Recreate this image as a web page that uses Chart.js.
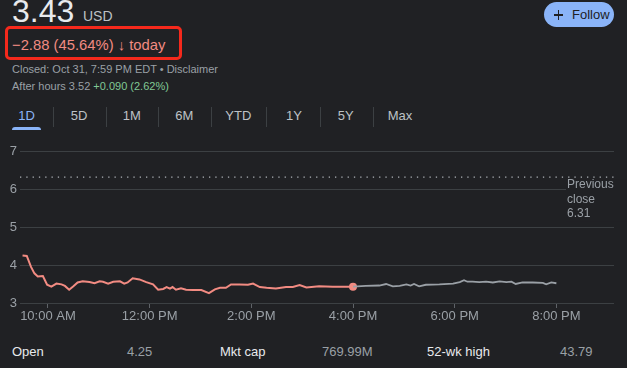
<!DOCTYPE html>
<html>
<head>
<meta charset="utf-8">
<script src="https://cdn.jsdelivr.net/npm/chart.js@4"></script>
<style>
  html, body { margin:0; padding:0; background:#202124; width:627px; height:368px; overflow:hidden; }
  body { position:relative; font-family:"Liberation Sans", Arial, Helvetica, sans-serif; }
  .t { position:absolute; white-space:nowrap; }
  #chart { position:absolute; left:0; top:140px; }
  .tab { position:absolute; top:108px; width:50px; text-align:center; font-size:13px; line-height:16px; color:#bdc1c6; }
  .sep { position:absolute; top:107px; width:1px; height:20px; background:#3c4043; }
  .row { position:absolute; top:344px; font-size:13px; line-height:16px; }
</style>
</head>
<body>
<div class="t" style="left:12px; top:-5px; font-size:32px; line-height:32px; color:#e8eaed;">3.43</div>
<div class="t" style="left:83px; top:9px; font-size:14px; line-height:14px; color:#bdc1c6;">USD</div>
<div style="position:absolute; left:5px; top:26px; width:171px; height:28px; border:3px solid #f5291c; border-radius:5px;"></div>
<div class="t" style="left:12px; top:37px; font-size:14.8px; line-height:16px; color:#f28b82;">−2.88 (45.64%) <b>↓</b> today</div>
<div class="t" style="left:12px; top:61.5px; font-size:11px; line-height:14px; color:#9aa0a6;">Closed: Oct 31, 7:59 PM EDT • Disclaimer</div>
<div class="t" style="left:12px; top:78.5px; font-size:11px; line-height:14px; color:#9aa0a6;">After hours 3.52 <span style="color:#81c995;">+0.090 (2.62%)</span></div>

<div class="tab" style="left:1.5px; color:#8ab4f8;">1D</div>
<div style="position:absolute; left:12px; top:127px; width:29px; height:3px; background:#8ab4f8; border-radius:3px 3px 0 0;"></div>
<div class="sep" style="left:52.5px;"></div>
<div class="tab" style="left:54px;">5D</div>
<div class="sep" style="left:105.5px;"></div>
<div class="tab" style="left:106.7px;">1M</div>
<div class="sep" style="left:158px;"></div>
<div class="tab" style="left:159.3px;">6M</div>
<div class="sep" style="left:210.5px;"></div>
<div class="tab" style="left:213.3px;">YTD</div>
<div class="sep" style="left:266px;"></div>
<div class="tab" style="left:269px;">1Y</div>
<div class="sep" style="left:320px;"></div>
<div class="tab" style="left:320.7px;">5Y</div>
<div class="sep" style="left:372.7px;"></div>
<div class="tab" style="left:375px;">Max</div>

<div style="position:absolute; left:544px; top:2px; width:70px; height:25px; border-radius:13px; background:#8ab4f8;"></div>
<div style="position:absolute; left:554px; top:14px; width:9px; height:1.5px; background:#202124;"></div>
<div style="position:absolute; left:557.75px; top:10px; width:1.5px; height:9.5px; background:#202124;"></div>
<div class="t" style="left:572px; top:7px; font-size:13px; line-height:16px; color:#202124;">Follow</div>

<canvas id="chart" width="627" height="190"></canvas>

<div class="row" style="left:12px; color:#e8eaed;">Open</div>
<div class="row" style="left:127px; color:#9aa0a6;">4.25</div>
<div class="row" style="left:220px; color:#e8eaed;">Mkt cap</div>
<div class="row" style="left:322px; color:#9aa0a6;">769.99M</div>
<div class="row" style="left:427px; color:#e8eaed;">52-wk high</div>
<div class="row" style="left:560px; color:#9aa0a6;">43.79</div>

<script>
// minutes since 9:30 AM
const sessionMinutes = [0,5,10,14,18,24,29,34,40,46,50,55,60,65,71,79,85,91,95,101,107,115,120,124,130,138,146,154,160,166,170,174,177,181,187,193,201,211,220,227,233,240,246,256,266,272,280,288,299,311,319,327,335,350,366,390];
const sessionPrices  = [4.25,4.24,3.95,3.78,3.70,3.71,3.48,3.43,3.51,3.49,3.45,3.35,3.44,3.54,3.57,3.55,3.52,3.57,3.56,3.51,3.56,3.57,3.51,3.54,3.65,3.62,3.55,3.49,3.35,3.37,3.42,3.38,3.42,3.35,3.39,3.35,3.34,3.34,3.26,3.36,3.40,3.40,3.49,3.49,3.48,3.51,3.42,3.40,3.38,3.42,3.42,3.47,3.41,3.44,3.43,3.43];
const afterMinutes = [390,405,421,429,437,445,453,458,462,468,476,492,508,516,521,525,531,539,547,555,563,571,577,582,590,602,614,618,624,630];
const afterPrices  = [3.43,3.45,3.46,3.50,3.44,3.45,3.49,3.46,3.50,3.44,3.48,3.49,3.51,3.55,3.60,3.56,3.56,3.55,3.56,3.54,3.57,3.55,3.56,3.50,3.54,3.54,3.53,3.49,3.54,3.52];
const previousClose = 6.31;
const xRange = [-3, 698];
const tickValues = [30,150,270,390,510,630];
const tickLabels = ["10:00 AM","12:00 PM","2:00 PM","4:00 PM","6:00 PM","8:00 PM"];
const yTicks = [3,4,5,6,7];

const toXY = (xs, ys) => xs.map((x, i) => ({x, y: ys[i]}));

const prevLabel = {
  id: 'prevLabel',
  beforeDatasetsDraw(chart) {
    const {ctx, chartArea, scales} = chart;
    const y = scales.y.getPixelForValue(previousClose);
    const x = chartArea.right - 47;
    ctx.save();
    ctx.fillStyle = '#202124';
    ctx.fillRect(x - 1, y + 2, 80, 42);
    ctx.fillStyle = '#9aa0a6';
    ctx.font = '12px "Liberation Sans", Arial, sans-serif';
    ctx.textBaseline = 'middle';
    ctx.textAlign = 'left';
    ctx.fillText('Previous', x, y + 7.8);
    ctx.fillText('close', x, y + 22);
    ctx.fillText(previousClose.toFixed(2), x, y + 36);
    ctx.restore();
  }
};

new Chart(document.getElementById('chart'), {
  type: 'line',
  data: {
    datasets: [
      {
        data: [{x: xRange[0], y: previousClose}, {x: xRange[1], y: previousClose}],
        borderColor: '#aeb3b8', borderWidth: 1.3, borderDash: [1.3, 5], pointRadius: 0
      },
      {
        data: toXY(afterMinutes, afterPrices),
        borderColor: '#9aa0a6', borderWidth: 1.8, pointRadius: 0, tension: 0
      },
      {
        data: toXY(sessionMinutes, sessionPrices),
        borderColor: '#f28b82', borderWidth: 2, tension: 0,
        pointBackgroundColor: '#f28b82', pointBorderWidth: 0,
        pointRadius: ctx => ctx.dataIndex === sessionMinutes.length - 1 ? 4 : 0
      }
    ]
  },
  options: {
    responsive: false,
    animation: false,
    devicePixelRatio: 1,
    layout: { padding: { top: 11, right: 13, left: 0, bottom: 0 } },
    plugins: { legend: { display: false }, tooltip: { enabled: false } },
    scales: {
      x: {
        type: 'linear', min: xRange[0], max: xRange[1],
        afterBuildTicks: s => { s.ticks = tickValues.map(v => ({value: v})); },
        afterFit: s => { s.height = 27; },
        ticks: {
          autoSkip: false, maxRotation: 0, padding: 1,
          color: '#9aa0a6', font: { size: 13, family: '"Liberation Sans", Arial, sans-serif' },
          callback: v => tickLabels[tickValues.indexOf(v)]
        },
        grid: { drawOnChartArea: false, drawTicks: true, tickLength: 5, color: '#5f6368' },
        border: { display: false }
      },
      y: {
        min: 3, max: 7,
        afterBuildTicks: s => { s.ticks = yTicks.map(v => ({value: v})); },
        afterFit: s => { s.width = 20; },
        ticks: { padding: 3, color: '#9aa0a6', font: { size: 13, family: '"Liberation Sans", Arial, sans-serif' } },
        grid: { color: '#3c4043', drawTicks: false },
        border: { display: false }
      }
    }
  },
  plugins: [prevLabel]
});
</script>
</body>
</html>
